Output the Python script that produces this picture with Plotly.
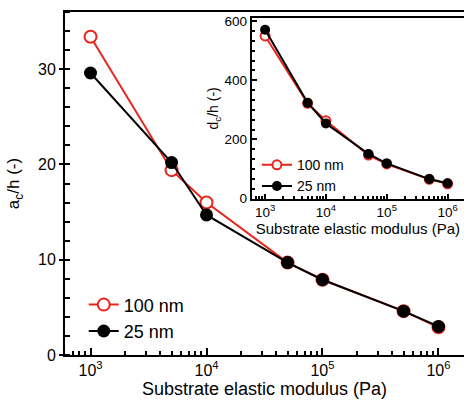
import plotly.graph_objects as go

# Data
modulus = [1e3, 5e3, 1e4, 5e4, 1e5, 5e5, 1e6]
ac_100 = [33.4, 19.4, 16.0, 9.7, 7.9, 4.6, 2.9]
ac_25 = [29.6, 20.2, 14.7, 9.7, 7.9, 4.6, 3.0]
dc_100 = [550, 322, 263, 147, 117, 65, 50]
dc_25 = [571, 324, 254, 151, 119, 66, 52]
labels = ["100 nm", "25 nm"]
tickvals = [1e3, 1e4, 1e5, 1e6]
ticktext = ["10<sup>3</sup>", "10<sup>4</sup>", "10<sup>5</sup>", "10<sup>6</sup>"]

FONT = "Liberation Sans, Arial, sans-serif"
RED = "#e8241c"

fig = go.Figure()
# main
fig.add_trace(go.Scatter(x=modulus, y=ac_100, mode="lines+markers", name=labels[0],
                         line=dict(color=RED, width=2),
                         marker=dict(symbol="circle", size=12, color="white", line=dict(color=RED, width=2)),
                         xaxis="x", yaxis="y", legend="legend"))
fig.add_trace(go.Scatter(x=modulus, y=ac_25, mode="lines+markers", name=labels[1],
                         line=dict(color="black", width=2),
                         marker=dict(symbol="circle", size=13, color="black"),
                         xaxis="x", yaxis="y", legend="legend"))
# inset
fig.add_trace(go.Scatter(x=modulus, y=dc_100, mode="lines+markers", name=labels[0],
                         line=dict(color=RED, width=2),
                         marker=dict(symbol="circle", size=9, color="white", line=dict(color=RED, width=2)),
                         xaxis="x2", yaxis="y2", legend="legend2"))
fig.add_trace(go.Scatter(x=modulus, y=dc_25, mode="lines+markers", name=labels[1],
                         line=dict(color="black", width=2),
                         marker=dict(symbol="circle", size=10, color="black"),
                         xaxis="x2", yaxis="y2", legend="legend2"))

fig.update_layout(
    width=464, height=401,
    margin=dict(l=65, r=0, t=12, b=46),
    paper_bgcolor="white", plot_bgcolor="white",
    font=dict(family=FONT, color="black"),
    xaxis=dict(type="log", range=[2.78, 6.22], domain=[0, 1],
               tickvals=tickvals, ticktext=ticktext,
               ticks="inside", ticklen=7, tickwidth=1.5, tickcolor="black",
               minor=dict(ticks="inside", ticklen=4, tickwidth=1.5, dtick="D1", tickcolor="black"),
               showline=True, linecolor="black", linewidth=2, mirror=True,
               showgrid=False, zeroline=False,
               tickfont=dict(size=16),
               title=dict(text="Substrate elastic modulus (Pa)", font=dict(size=18), standoff=4)),
    yaxis=dict(range=[0, 36], domain=[0, 1],
               tickvals=[0, 10, 20, 30],
               ticks="outside", ticklen=4, tickwidth=1.5, tickcolor="black",
               minor=dict(ticks="inside", ticklen=5, tickwidth=1.5, dtick=2, tickcolor="black"),
               showline=True, linecolor="black", linewidth=2,
               showgrid=False, zeroline=False,
               tickfont=dict(size=16),
               title=dict(text="a<sub>c</sub>/h (-)", font=dict(size=17), standoff=14)),
    xaxis2=dict(type="log", range=[2.78, 6.27], domain=[0.468, 1], anchor="y2",
                tickvals=tickvals, ticktext=ticktext,
                ticks="inside", ticklen=5, tickwidth=1.5, tickcolor="black",
                minor=dict(ticks="inside", ticklen=3, tickwidth=1.5, dtick="D1", tickcolor="black"),
                showline=True, linecolor="black", linewidth=2, mirror=True,
                showgrid=False, zeroline=False,
                tickfont=dict(size=13.5),
                title=dict(text="Substrate elastic modulus (Pa)", font=dict(size=15), standoff=0)),
    yaxis2=dict(range=[0, 610], domain=[0.456, 0.982], anchor="x2",
                tickvals=[0, 200, 400, 600],
                ticks="inside", ticklen=5, tickwidth=1.5, tickcolor="black",
                minor=dict(ticks="inside", ticklen=3, tickwidth=1.5, dtick=200 / 6, tickcolor="black"),
                showline=True, linecolor="black", linewidth=2,
                showgrid=False, zeroline=False,
                tickfont=dict(size=13.5),
                title=dict(text="d<sub>c</sub>/h (-)", font=dict(size=14), standoff=3)),
    legend=dict(x=0.047, y=0.20, xanchor="left", yanchor="top",
                bgcolor="rgba(0,0,0,0)", font=dict(size=18),
                tracegroupgap=0, itemwidth=30),
    legend2=dict(x=0.481, y=0.60, xanchor="left", yanchor="top",
                 bgcolor="rgba(0,0,0,0)", font=dict(size=14),
                 tracegroupgap=0, itemwidth=30),
)

fig.write_html("out.html")
